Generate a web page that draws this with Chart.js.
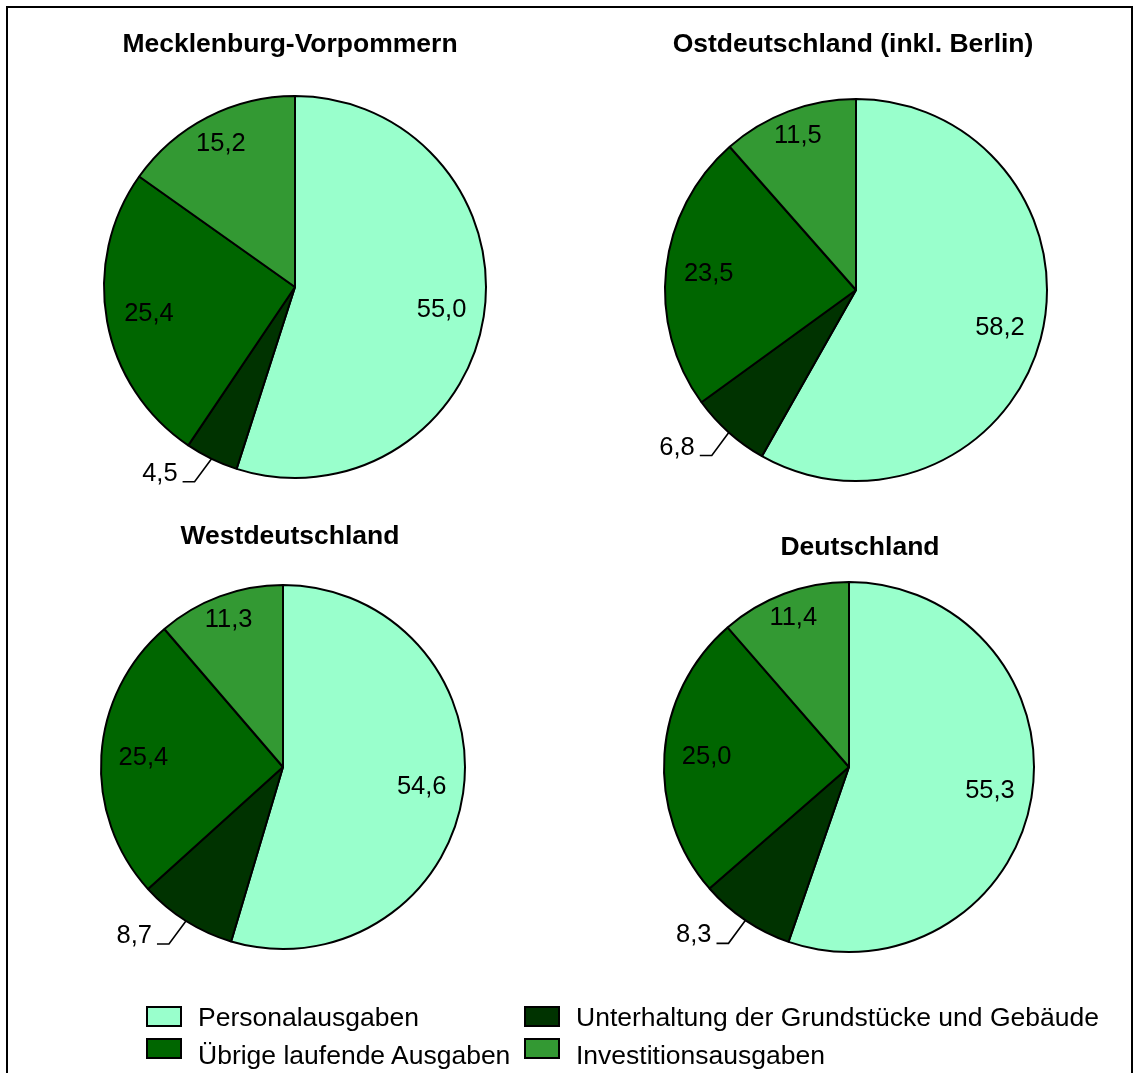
<!DOCTYPE html>
<html>
<head>
<meta charset="utf-8">
<script src="https://cdn.jsdelivr.net/npm/chart.js@4.4.0/dist/chart.umd.min.js"></script>
<style>
  html, body { margin:0; padding:0; background:#fff; width:1134px; height:1073px; overflow:hidden; position:relative; }
  #frame { position:absolute; left:6px; top:6px; width:1127px; height:1200px; border:2px solid #000; box-sizing:border-box; }
  canvas.pie { position:absolute; }
  .lg-box { position:absolute; width:36px; height:21px; border:2px solid #000; box-sizing:border-box; z-index:5; }
  .lg-text { position:absolute; font-family:"Liberation Sans", Arial, sans-serif; font-size:26.5px; line-height:30px; color:#000; white-space:nowrap; z-index:5; }
</style>
</head>
<body>
<div id="frame"></div>
<div id="charts"></div>
<div id="legend"></div>
<script>
// ---- data ----
const categories = ['Personalausgaben', 'Unterhaltung der Grundstücke und Gebäude', 'Übrige laufende Ausgaben', 'Investitionsausgaben'];
const regions = ['Mecklenburg-Vorpommern', 'Ostdeutschland (inkl. Berlin)', 'Westdeutschland', 'Deutschland'];
const valuesMV   = [55.0, 4.5, 25.4, 15.2];
const valuesOst  = [58.2, 6.8, 23.5, 11.5];
const valuesWest = [54.6, 8.7, 25.4, 11.3];
const valuesDE   = [55.3, 8.3, 25.0, 11.4];
const colors = ['#99FFCC', '#003300', '#006600', '#339933'];

// ---- layout (positions only) ----
const panels = [
  { title: regions[0], values: valuesMV,   cx: 295, cy: 287, r: 191, titleX: 290, titleY: 45 },
  { title: regions[1], values: valuesOst,  cx: 856, cy: 290, r: 191, titleX: 853, titleY: 45 },
  { title: regions[2], values: valuesWest, cx: 283, cy: 767, r: 182, titleX: 290, titleY: 537 },
  { title: regions[3], values: valuesDE,   cx: 849, cy: 767, r: 185, titleX: 860, titleY: 548 }
];
const SIZE = 600;
const FONT = '"Liberation Sans", Arial, sans-serif';

function fmt(v) { return v.toFixed(1).replace('.', ','); }

function makeTextPlugin(p, left, top) {
  return {
    id: 'panelText',
    afterDatasetsDraw(chart) {
      const ctx = chart.ctx;
      const meta = chart.getDatasetMeta(0);
      const vals = chart.data.datasets[0].data;
      ctx.save();
      ctx.fillStyle = '#000';
      ctx.strokeStyle = '#000';
      ctx.font = '25.5px ' + FONT;
      ctx.textBaseline = 'middle';
      meta.data.forEach((arc, i) => {
        const a = arc.getProps(['x', 'y', 'startAngle', 'endAngle', 'outerRadius'], true);
        const mid = (a.startAngle + a.endAngle) / 2;
        const dx = Math.cos(mid), dy = Math.sin(mid);
        const text = fmt(vals[i]);
        const w = ctx.measureText(text).width;
        if (vals[i] >= 10) {
          const rho = a.outerRadius * 0.905 - Math.abs(dx) * w / 2;
          ctx.textAlign = 'center';
          ctx.fillText(text, a.x + dx * rho, a.y + dy * rho);
        } else {
          const ex = a.x + dx * a.outerRadius, ey = a.y + dy * a.outerRadius;
          const px = ex - 17, py = ey + 23;
          const hx = px - 12;
          ctx.beginPath();
          ctx.moveTo(ex, ey);
          ctx.lineTo(px, py);
          ctx.lineTo(hx, py);
          ctx.lineWidth = 1.6;
          ctx.stroke();
          ctx.textAlign = 'right';
          ctx.fillText(text, hx - 5, py - 8);
        }
      });
      ctx.font = 'bold 26.5px ' + FONT;
      ctx.textAlign = 'center';
      ctx.fillText(p.title, p.titleX - left, p.titleY - top);
      ctx.restore();
    }
  };
}

const holder = document.getElementById('charts');
panels.forEach(p => {
  const left = p.cx - SIZE / 2, top = p.cy - SIZE / 2;
  const cv = document.createElement('canvas');
  cv.className = 'pie';
  cv.width = SIZE; cv.height = SIZE;
  cv.style.left = left + 'px'; cv.style.top = top + 'px';
  cv.style.width = SIZE + 'px'; cv.style.height = SIZE + 'px';
  holder.appendChild(cv);
  new Chart(cv, {
    type: 'pie',
    data: {
      labels: categories,
      datasets: [{ data: p.values, backgroundColor: colors, borderColor: '#000', borderWidth: 2 }]
    },
    options: {
      responsive: false,
      animation: false,
      devicePixelRatio: 1,
      events: [],
      radius: p.r,
      layout: { padding: 0 },
      plugins: { legend: { display: false }, tooltip: { enabled: false }, title: { display: false } }
    },
    plugins: [makeTextPlugin(p, left, top)]
  });
});

// ---- legend ----
const legendPos = [
  { bx: 146, by: 1006, tx: 198, ty: 1002 },
  { bx: 524, by: 1006, tx: 576, ty: 1002 },
  { bx: 146, by: 1038, tx: 198, ty: 1040 },
  { bx: 524, by: 1038, tx: 576, ty: 1040 }
];
const lg = document.getElementById('legend');
categories.forEach((c, i) => {
  const pos = legendPos[i];
  const b = document.createElement('div');
  b.className = 'lg-box';
  b.style.left = pos.bx + 'px'; b.style.top = pos.by + 'px';
  b.style.background = colors[i];
  lg.appendChild(b);
  const t = document.createElement('div');
  t.className = 'lg-text';
  t.style.left = pos.tx + 'px'; t.style.top = pos.ty + 'px';
  t.textContent = c;
  lg.appendChild(t);
});
</script>
</body>
</html>
